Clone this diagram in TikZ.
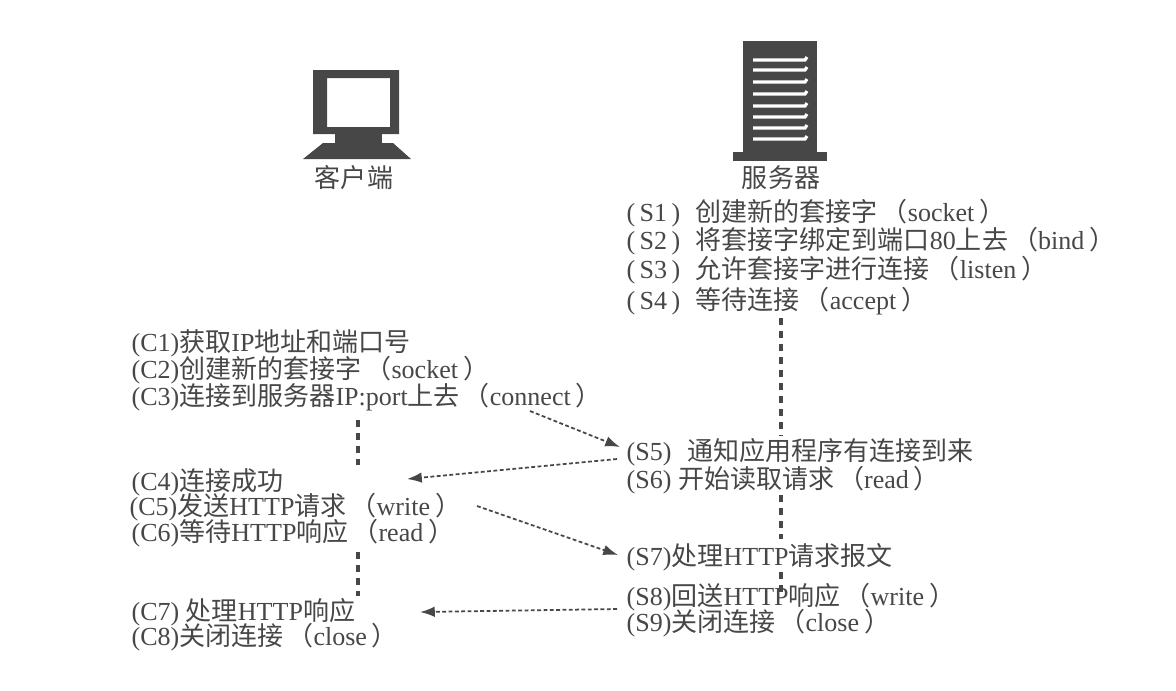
\documentclass[tikz,border=0pt]{standalone}
\usepackage{fontspec}
\setmainfont{Liberation Serif}
\newfontfamily\cjk{Noto Sans CJK SC}
\newcommand{\zh}[1]{{\cjk #1}}
\newcommand{\tagbox}[2]{\makebox[#1cm][l]{(\,#2\,)}}
\newcommand{\call}[1]{\hspace{0.04cm}\zh{（}#1\hspace{0.05cm}\zh{）}}
\usetikzlibrary{arrows.meta}
\definecolor{ink}{gray}{0.28}
\tikzset{
  lbl/.style={anchor=west,inner sep=0pt,text=ink,font=\fontsize{7.4}{9}\selectfont},
  iconlbl/.style={anchor=center,inner sep=0pt,text=ink,font=\fontsize{7.4}{9}\selectfont},
  life/.style={draw=ink,line width=1.1pt,dash pattern=on 2pt off 1.7pt},
  msg/.style={draw=ink,line width=0.5pt,dash pattern=on 1.1pt off 0.7pt,-{Latex[length=4.2pt,width=3pt,sep=0pt]}}
}
\begin{document}
\begin{tikzpicture}[x=0.01cm,y=-0.01cm]
  \useasboundingbox (0,0) rectangle (1176,690);
  % Client-Symbol
  \fill[ink,even odd rule] (313,70) rectangle (399,134) (327,78) rectangle (390,127);
  \fill[ink] (335,134) rectangle (382,145);
  \fill[ink] (323,143) -- (393,143) -- (411,159) -- (303,159) -- cycle;
  \node[iconlbl] (client) at (354,178) {\zh{客户端}};
  % Server-Symbol
  \fill[ink] (743,41) rectangle (817,152);
  \fill[ink] (733,152) rectangle (827,161);
  \foreach \y in {60,70,82,94,106,117,128,139}
    \draw[white,line width=0.9pt] (753,\y) -- (805,\y) -- (807,\y-3);
  \node[iconlbl] (server) at (781,178) {\zh{服务器}};
  % Server-Texte
  \node[lbl] (s1) at (626,213) {\tagbox{0.69}{S1}\zh{创建新的套接字}\call{socket}};
  \node[lbl] (s2) at (626,241) {\tagbox{0.69}{S2}\zh{将套接字绑定到端口}80\zh{上去}\call{bind}};
  \node[lbl] (s3) at (626,270) {\tagbox{0.69}{S3}\zh{允许套接字进行连接}\call{listen}};
  \node[lbl] (s4) at (626,301) {\tagbox{0.69}{S4}\zh{等待连接}\call{accept}};
  \node[lbl] (s5) at (626,452) {\makebox[0.61cm][l]{(S5)}\zh{通知应用程序有连接到来}};
  \node[lbl] (s6) at (626,480) {(S6) \zh{开始读取请求}\call{read}};
  \node[lbl] (s7) at (626,557) {(S7)\zh{处理}HTTP\zh{请求报文}};
  \node[lbl] (s8) at (626,597) {(S8)\zh{回送}HTTP\zh{响应}\call{write}};
  \node[lbl] (s9) at (626,623) {(S9)\zh{关闭连接}\call{close}};
  % Client-Texte
  \node[lbl] (c1) at (131,343) {(C1)\zh{获取}IP\zh{地址和端口号}};
  \node[lbl] (c2) at (131,370) {(C2)\zh{创建新的套接字}\call{socket}};
  \node[lbl] (c3) at (131,397) {(C3)\zh{连接到服务器}IP:port\zh{上去}\call{connect}};
  \node[lbl] (c4) at (131,482) {(C4)\zh{连接成功}};
  \node[lbl] (c5) at (129,507) {(C5)\zh{发送}HTTP\zh{请求}\call{write}};
  \node[lbl] (c6) at (131,533) {(C6)\zh{等待}HTTP\zh{响应}\call{read}};
  \node[lbl] (c7) at (131,612) {(C7) \zh{处理}HTTP\zh{响应}};
  \node[lbl] (c8) at (131,637) {(C8)\zh{关闭连接}\call{close}};
  % Hilfspunkte
  \coordinate (a1) at (530,411);
  \coordinate (a2) at (620,447);
  \coordinate (b1) at (617,459);
  \coordinate (b2) at (407,479);
  \coordinate (d1) at (477,506);
  \coordinate (d2) at (618,555);
  \coordinate (e1) at (617,609);
  \coordinate (e2) at (420,612);
  % Zeitlinien
  \coordinate (sa) at (781,318);
  \coordinate (sb) at (781,436);
  \coordinate (sc) at (781,495);
  \coordinate (sd) at (781,539);
  \coordinate (se) at (781,572);
  \coordinate (sf) at (781,597);
  \coordinate (ca) at (358,420);
  \coordinate (cb) at (358,465);
  \coordinate (cc) at (358,552);
  \coordinate (cd) at (358,596);
  \draw[life] (sa) -- (sb);
  \draw[life] (sc) -- (sd);
  \draw[life] (se) -- (sf);
  \draw[life] (ca) -- (cb);
  \draw[life] (cc) -- (cd);
  % Nachrichten
  \draw[msg] (a1) -- (a2);
  \draw[msg] (b1) -- (b2);
  \draw[msg] (d1) -- (d2);
  \draw[msg] (e1) -- (e2);
\end{tikzpicture}
\end{document}
